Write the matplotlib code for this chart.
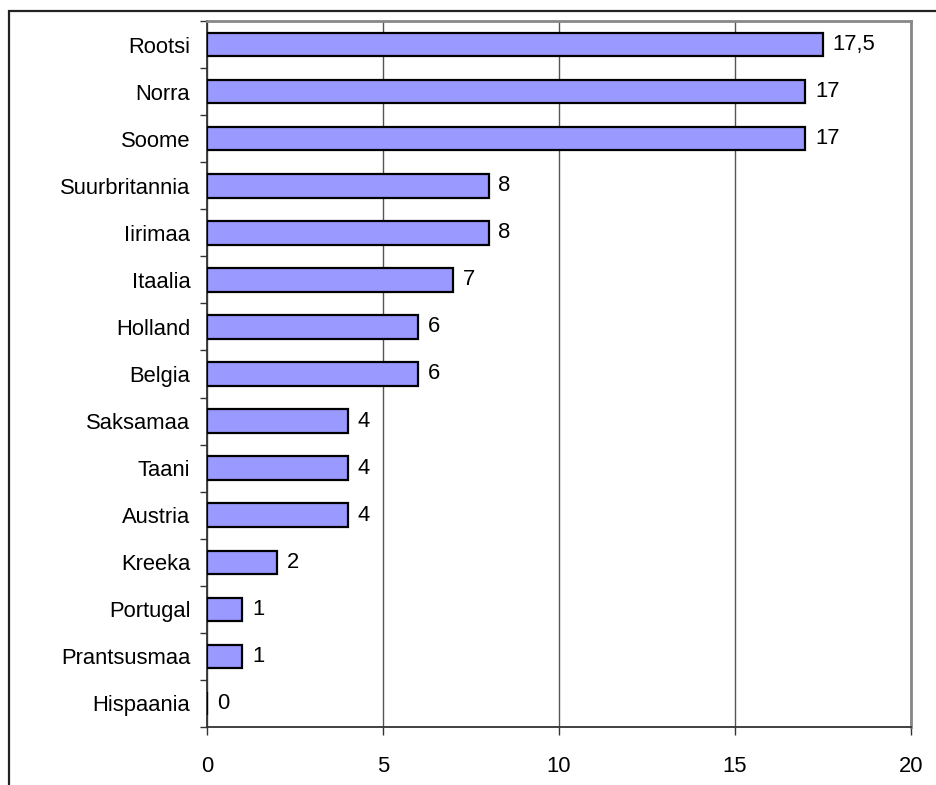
import numpy as np
import matplotlib
matplotlib.use('Agg')
import matplotlib.pyplot as plt
from matplotlib.patches import Rectangle

plt.rcParams['font.family'] = ['Liberation Sans', 'DejaVu Sans']

countries = ['Rootsi', 'Norra', 'Soome', 'Suurbritannia', 'Iirimaa', 'Itaalia',
             'Holland', 'Belgia', 'Saksamaa', 'Taani', 'Austria', 'Kreeka',
             'Portugal', 'Prantsusmaa', 'Hispaania']
values = [17.5, 17, 17, 8, 8, 7, 6, 6, 4, 4, 4, 2, 1, 1, 0]
value_labels = ['17,5', '17', '17', '8', '8', '7', '6', '6', '4', '4', '4', '2', '1', '1', '0']
xticks = [0, 5, 10, 15, 20]
fs = 15.8

fig = plt.figure(figsize=(9.36, 7.85), dpi=100)
ax = fig.add_axes([207/936, 58/785, 704/936, 706/785])

# outer chart frame (runs off the right and bottom edges)
fig.patches.append(Rectangle((9/936, -0.1), 1.0, 1.1 - 11/785, transform=fig.transFigure,
                             fill=False, edgecolor='#222222', lw=1.6, clip_on=False))

y = np.arange(len(countries))
ax.barh(y, values, height=0.5, color='#9999ff', edgecolor='black', linewidth=1.6, zorder=3)
for yi, v, lab in zip(y, values, value_labels):
    ax.annotate(lab, (v, yi), xytext=(7, 0), textcoords='offset points',
                va='center', ha='left', fontsize=fs)

ax.set_ylim(len(countries) - 0.5, -0.5)
ax.set_xlim(0, 20)
ax.set_yticks(y)
ax.set_yticklabels(countries, fontsize=fs)
ax.set_yticks(np.arange(len(countries) + 1) - 0.5, minor=True)
ax.tick_params(axis='y', which='major', length=0, pad=12)
ax.tick_params(axis='y', which='minor', length=5, width=1, color='#333333', direction='out')
ax.set_xticks(xticks)
ax.set_xticklabels([str(t) for t in xticks], fontsize=fs)
ax.tick_params(axis='x', length=6, width=1, color='#333333', pad=15)

ax.grid(axis='x', color='#555555', linewidth=1, zorder=0)
ax.spines['left'].set_color('#333333')
ax.spines['bottom'].set_color('#333333')
ax.spines['left'].set_linewidth(1.3)
ax.spines['bottom'].set_linewidth(1.3)
ax.spines['top'].set_color('#888888')
ax.spines['right'].set_color('#888888')
ax.spines['top'].set_linewidth(2)
ax.spines['right'].set_linewidth(2)

plt.savefig('out.png', dpi=100)
